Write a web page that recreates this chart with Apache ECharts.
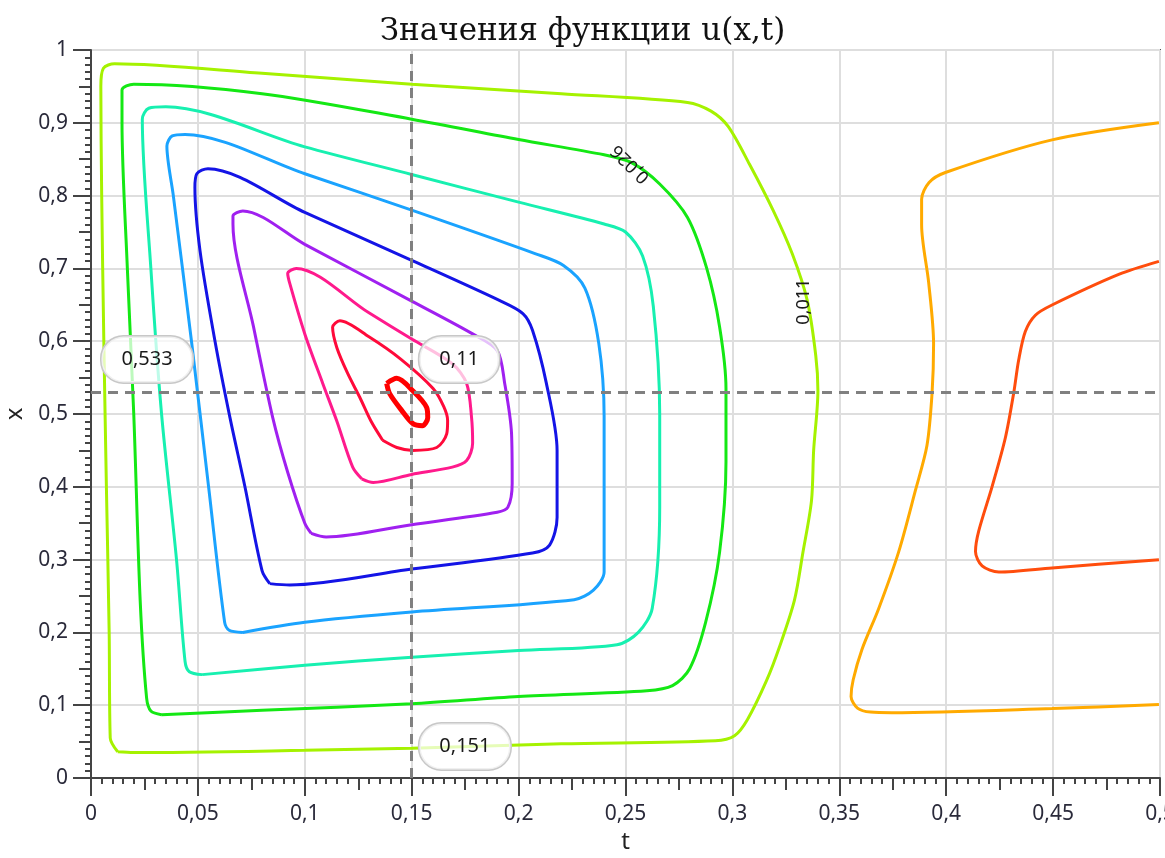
<!DOCTYPE html>
<html>
<head>
<meta charset="utf-8">
<title>Значения функции u(x,t)</title>
<script src="https://cdn.jsdelivr.net/npm/echarts@6/dist/echarts.min.js"></script>
<style>
  html, body { margin: 0; padding: 0; background: #fff; }
  #chart { width: 1165px; height: 858px; }
</style>
</head>
<body>
<div id="chart"></div>
<script>
  // изолинии u(x,t), точки [t, x] (по часовой стрелке)
  var level1 = [[0.0125,0.036],[0.009,0.055],[0.0085,0.2],[0.0072,0.4],[0.006,0.6],[0.005,0.8],[0.0046,0.95],[0.0058,0.975],[0.011,0.981],[0.08,0.968],[0.15,0.953],[0.22,0.94],[0.279,0.928],[0.29,0.916],[0.298,0.895],[0.308,0.843],[0.319,0.78],[0.328,0.72],[0.335,0.656],[0.339,0.58],[0.340,0.532],[0.338,0.45],[0.337,0.381],[0.333,0.31],[0.329,0.244],[0.322,0.18],[0.316,0.134],[0.307,0.08],[0.301,0.058],[0.292,0.051],[0.22,0.047],[0.15,0.041],[0.1,0.038],[0.02,0.035],[0.0125,0.036]];
  var level2 = [[0.033,0.087],[0.028,0.092],[0.026,0.11],[0.023,0.244],[0.02,0.5],[0.017,0.7],[0.0145,0.9],[0.0145,0.945],[0.02,0.953],[0.08,0.94],[0.15,0.905],[0.2,0.877],[0.24,0.856],[0.253,0.845],[0.266,0.816],[0.279,0.77],[0.288,0.7],[0.294,0.62],[0.297,0.535],[0.297,0.434],[0.294,0.31],[0.2875,0.214],[0.28,0.15],[0.272,0.127],[0.26,0.12],[0.2,0.112],[0.15,0.102],[0.08,0.093],[0.033,0.087]];
  var level3 = [[0.052,0.142],[0.046,0.146],[0.044,0.16],[0.04,0.3],[0.033,0.5],[0.028,0.7],[0.024,0.905],[0.027,0.92],[0.035,0.922],[0.1,0.867],[0.15,0.829],[0.2,0.791],[0.24,0.761],[0.25,0.75],[0.258,0.717],[0.263,0.648],[0.266,0.5],[0.266,0.372],[0.2625,0.233],[0.256,0.2],[0.246,0.183],[0.2,0.175],[0.15,0.166],[0.1,0.155],[0.052,0.142]];
  var level4 = [[0.071,0.2],[0.0646,0.203],[0.0625,0.214],[0.055,0.4],[0.047,0.6],[0.0385,0.8],[0.0355,0.868],[0.038,0.882],[0.044,0.884],[0.1,0.83],[0.15,0.78],[0.208,0.72],[0.221,0.704],[0.231,0.673],[0.2375,0.597],[0.24,0.497],[0.24,0.371],[0.24,0.283],[0.235,0.258],[0.226,0.245],[0.15,0.228],[0.1,0.214],[0.071,0.2]];
  var level5 = [[0.0836,0.267],[0.08,0.285],[0.072,0.4],[0.065,0.495],[0.058,0.6],[0.051,0.724],[0.0486,0.811],[0.0495,0.83],[0.0547,0.837],[0.1,0.777],[0.15,0.711],[0.191,0.656],[0.202,0.638],[0.2065,0.615],[0.213,0.542],[0.218,0.45],[0.218,0.358],[0.2145,0.32],[0.2065,0.309],[0.15,0.287],[0.093,0.265],[0.0836,0.267]];
  var level6 = [[0.103,0.336],[0.1,0.35],[0.092,0.42],[0.085,0.495],[0.076,0.62],[0.0664,0.761],[0.0664,0.772],[0.071,0.779],[0.1,0.733],[0.15,0.655],[0.1785,0.61],[0.19,0.587],[0.1935,0.542],[0.1967,0.473],[0.197,0.405],[0.195,0.372],[0.19,0.365],[0.15,0.348],[0.11,0.331],[0.103,0.336]];
  var level7 = [[0.1266,0.411],[0.1224,0.427],[0.115,0.49],[0.1084,0.542],[0.1,0.61],[0.093,0.679],[0.092,0.693],[0.096,0.7],[0.13,0.639],[0.15,0.603],[0.169,0.569],[0.1757,0.542],[0.178,0.495],[0.1785,0.46],[0.1757,0.436],[0.169,0.427],[0.15,0.417],[0.132,0.406],[0.1266,0.411]];
  var level8 = [[0.1364,0.464],[0.131,0.49],[0.1257,0.523],[0.12,0.556],[0.115,0.591],[0.113,0.619],[0.1164,0.628],[0.13,0.606],[0.145,0.575],[0.16,0.535],[0.165,0.51],[0.1668,0.491],[0.1664,0.473],[0.1617,0.454],[0.1505,0.45],[0.143,0.454],[0.1364,0.464]];
  var level9 = [[0.1383,0.542],[0.143,0.549],[0.1505,0.532],[0.157,0.509],[0.1575,0.495],[0.155,0.484],[0.1505,0.487],[0.1453,0.505],[0.1397,0.528],[0.1383,0.542]];
  var rightOuter = [[0.4995,0.9],[0.4495,0.8765],[0.3996,0.8317],[0.392,0.818],[0.3885,0.795],[0.3885,0.76],[0.3918,0.6805],[0.3941,0.5965],[0.3934,0.5293],[0.391,0.4566],[0.3856,0.395],[0.3778,0.311],[0.3684,0.2326],[0.3606,0.1766],[0.3565,0.135],[0.3555,0.112],[0.3585,0.096],[0.3646,0.0905],[0.3746,0.0898],[0.4495,0.0954],[0.4995,0.101]];
  var rightInner = [[0.4995,0.7096],[0.4807,0.6917],[0.4495,0.6497],[0.4417,0.6357],[0.437,0.6133],[0.4339,0.5741],[0.4316,0.5293],[0.4277,0.4677],[0.4215,0.4006],[0.4152,0.339],[0.4137,0.311],[0.4168,0.2914],[0.4246,0.283],[0.4495,0.2886],[0.4995,0.2998]];

  // подписи изолиний: [t, x, текст, угол]
  var levelLabels = [[0.3332, 0.6543, '0,011', 90], [0.2523, 0.8436, '0,026', 135]];

  // перекрестие
  var crossT = 0.151;
  var crossX = 0.533;
  var crossU = 0.11;

  var chartTitle = 'Значения функции u(x,t)';
  var font = 'Noto Sans';

  function fmt(v) {
    return String(Number(v.toFixed(3))).replace('.', ',');
  }

  function contour(data, color, width) {
    return {
      type: 'line',
      data: data,
      symbol: 'none',
      smooth: 0.3,
      silent: true,
      clip: true,
      z: 3,
      lineStyle: {color: color, width: width || 3}
    };
  }

  var tickStyle = {color: '#444', width: 2};

  var chart = echarts.init(document.getElementById('chart'));

  chart.setOption({
    animation: false,
    backgroundColor: '#fff',
    title: {
      text: chartTitle,
      left: 'center',
      top: 11,
      textStyle: {fontFamily: 'DejaVu Serif', fontSize: 31, fontWeight: 'normal', color: '#111'}
    },
    grid: {
      left: 91, right: 5, top: 50, bottom: 80,
      outerBoundsMode: 'none',
      containLabel: false,
      show: true, borderColor: '#555', borderWidth: 2, backgroundColor: '#fff'
    },
    xAxis: [
      {
        type: 'value', min: 0, max: 0.5, interval: 0.05, position: 'bottom',
        name: 't', nameLocation: 'middle', nameGap: 52,
        nameTextStyle: {fontFamily: font, fontSize: 24, color: '#222'},
        axisLine: {show: true, lineStyle: {color: '#444', width: 2}},
        axisTick: {show: true, length: 18, lineStyle: tickStyle},
        minorTick: {show: true, splitNumber: 10, length: 6, lineStyle: tickStyle},
        splitLine: {show: true, lineStyle: {color: '#dedede', width: 2}},
        axisLabel: {formatter: fmt, fontFamily: font, fontSize: 21, color: '#2a2a3a', margin: 26}
      },
      {
        type: 'value', min: 0, max: 0.5, interval: 0.025, position: 'bottom',
        axisLine: {show: false},
        axisTick: {show: true, length: 12, lineStyle: tickStyle},
        axisLabel: {show: false},
        splitLine: {show: false}
      }
    ],
    yAxis: [
      {
        type: 'value', min: 0, max: 1, interval: 0.1, position: 'left',
        name: 'x', nameLocation: 'middle', nameGap: 60,
        nameTextStyle: {fontFamily: font, fontSize: 24, color: '#222'},
        axisLine: {show: true, lineStyle: {color: '#444', width: 2}},
        axisTick: {show: true, length: 18, lineStyle: tickStyle},
        minorTick: {show: true, splitNumber: 10, length: 6, lineStyle: tickStyle},
        splitLine: {show: true, lineStyle: {color: '#dedede', width: 2}},
        axisLabel: {formatter: fmt, fontFamily: font, fontSize: 21, color: '#2a2a3a', margin: 23}
      },
      {
        type: 'value', min: 0, max: 1, interval: 0.05, position: 'left',
        axisLine: {show: false},
        axisTick: {show: true, length: 12, lineStyle: tickStyle},
        axisLabel: {show: false},
        splitLine: {show: false}
      }
    ],
    series: [
      contour(level1, '#a5f200'),
      contour(level2, '#14e814'),
      contour(level3, '#17f0b0'),
      contour(level4, '#1aa3ff'),
      contour(level5, '#1414e6'),
      contour(level6, '#a020f0'),
      contour(level7, '#ff1a8c'),
      contour(level8, '#ff0a3a'),
      contour(level9, '#ff0000', 5),
      contour(rightOuter, '#ffaa00'),
      contour(rightInner, '#ff4d0d'),
      {
        // подписи уровней на линиях
        type: 'scatter',
        silent: true,
        z: 5,
        symbolSize: 1,
        itemStyle: {color: 'rgba(0,0,0,0)'},
        data: levelLabels.map(function (d) {
          return {
            value: [d[0], d[1]],
            label: {
              show: true, position: 'inside', formatter: d[2], rotate: d[3],
              fontFamily: font, fontSize: 18, color: '#1a1a1a', opacity: 1
            }
          };
        })
      },
      {
        // перекрестие и его подписи
        type: 'scatter',
        silent: true,
        clip: false,
        z: 6,
        symbolSize: 1,
        itemStyle: {color: 'rgba(0,0,0,0)'},
        label: {
          show: true, align: 'left', verticalAlign: 'bottom',
          fontFamily: font, fontSize: 20, color: '#1a1a1a', opacity: 1,
          backgroundColor: 'rgba(255,255,255,0.72)',
          borderColor: '#c8c8c8', borderWidth: 1.5, borderRadius: 22,
          padding: [13, 20]
        },
        data: [
          {value: [0, crossX], label: {formatter: fmt(crossX), position: [11, -7]}},
          {value: [crossT, crossX], label: {formatter: fmt(crossU), position: [6, -7]}},
          {value: [crossT, 0], label: {formatter: fmt(crossT), position: [6, -8]}}
        ],
        markLine: {
          silent: true,
          symbol: ['none', 'none'],
          label: {show: false},
          lineStyle: {color: '#808080', width: 3, type: [10, 7]},
          data: [{xAxis: crossT}, {yAxis: crossX}]
        }
      }
    ]
  });
</script>
</body>
</html>
